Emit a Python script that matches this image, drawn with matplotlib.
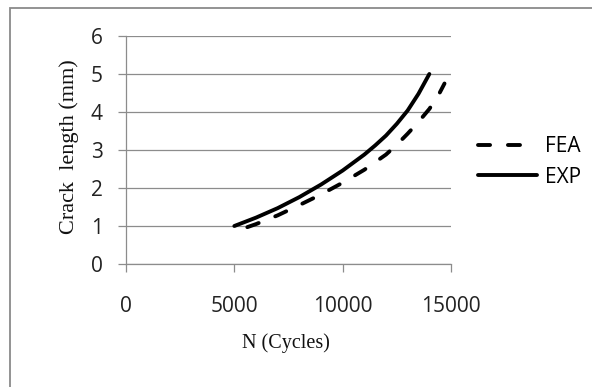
import numpy as np
import matplotlib.pyplot as plt
from matplotlib.patches import Rectangle

# data
exp_n = [5000, 6000, 7000, 8000, 9000, 10000, 11000, 11500, 12000, 12500, 13000, 13500, 14000]
exp_a = [1.0, 1.22, 1.47, 1.76, 2.09, 2.46, 2.88, 3.12, 3.38, 3.69, 4.04, 4.48, 5.0]
fea_n = [5600, 6000, 7000, 8000, 9000, 10000, 11000, 12000, 12500, 13000, 13500, 14000, 14400, 14700]
fea_a = [0.97, 1.05, 1.28, 1.55, 1.83, 2.14, 2.48, 2.88, 3.14, 3.43, 3.74, 4.08, 4.42, 4.75]
x_ticks = [0, 5000, 10000, 15000]
y_ticks = [0, 1, 2, 3, 4, 5, 6]

W, H = 592, 387
grey = '#8c8c8c'
tick_font = 'Open Sans'
label_font = 'Liberation Serif'

fig = plt.figure(figsize=(W / 100, H / 100), dpi=100)
ax = fig.add_axes([126 / W, (H - 264) / H, (451 - 126) / W, (264 - 36) / H])

# chart area border (runs off the right and bottom edges)
fig.add_artist(Rectangle((10 / W, -0.1), 1.2, (H - 8) / H + 0.1,
                         transform=fig.transFigure, fill=False,
                         edgecolor='#8a8a8a', lw=1.3, clip_on=False))

ax.plot(fea_n, fea_a, color='black', lw=2.8, dashes=(3.1, 4.6),
        dash_capstyle='round', solid_joinstyle='round', label='FEA')
ax.plot(exp_n, exp_a, color='black', lw=2.8, solid_capstyle='round',
        solid_joinstyle='round', label='EXP')

ax.set_xlim(0, 15000)
ax.set_ylim(0, 6)
ax.set_xticks(x_ticks)
ax.set_yticks(y_ticks)
ax.yaxis.grid(True, color=grey, lw=0.9)
ax.set_axisbelow(True)

for s in ['top', 'right']:
    ax.spines[s].set_visible(False)
for s in ['left', 'bottom']:
    ax.spines[s].set_color(grey)
    ax.spines[s].set_linewidth(0.9)

ax.tick_params(axis='y', length=5.8, width=0.9, color=grey, pad=11,
               labelsize=15, labelcolor='#222222')
ax.tick_params(axis='x', length=5.8, width=0.9, color=grey, pad=17,
               labelsize=15, labelcolor='#222222')
for lab in ax.get_xticklabels() + ax.get_yticklabels():
    lab.set_fontfamily(tick_font)

fig.text(286 / W, 1 - 343 / H, 'N (Cycles)', family=label_font, fontsize=14.5,
         ha='center', va='center', color='#111111')
fig.text(69 / W, 1 - 147 / H, 'Crack  length (mm)', family=label_font,
         fontsize=16, rotation=90, ha='center', va='center', color='#111111')

leg = ax.legend(loc='center left', bbox_to_anchor=(468 / W, 1 - 162 / H),
                bbox_transform=fig.transFigure, frameon=False,
                prop={'family': tick_font, 'size': 15}, handlelength=2.8,
                handletextpad=0.4, labelspacing=0.45, borderpad=0)

fig.savefig('out.png', dpi=100)
